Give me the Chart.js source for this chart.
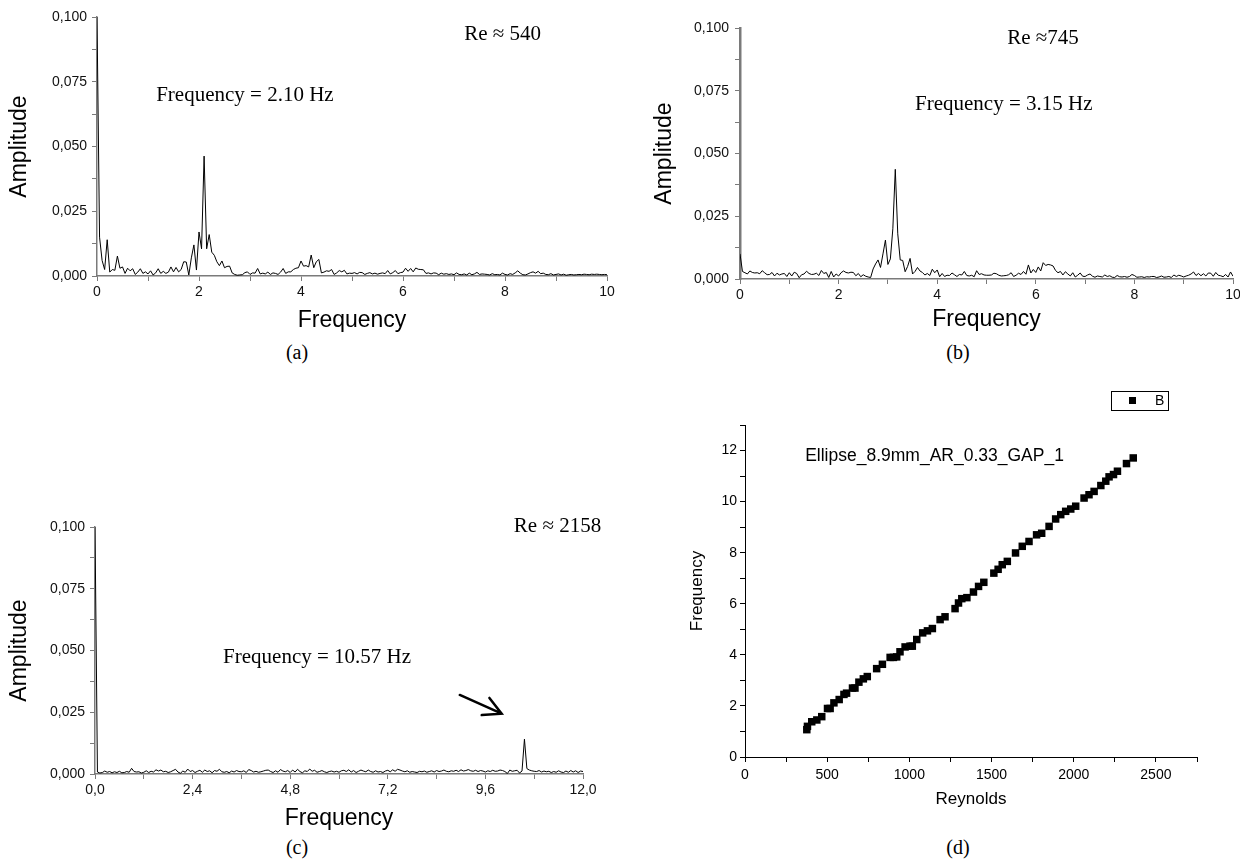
<!DOCTYPE html>
<html>
<head>
<meta charset="utf-8">
<script src="https://cdn.jsdelivr.net/npm/chart.js@4.4.0/dist/chart.umd.min.js"></script>
<style>
  html, body { margin: 0; padding: 0; background: #fff; width: 1240px; height: 866px; overflow: hidden; position: relative; }
  canvas { position: absolute; }
  .cap { position: absolute; font-family: 'Liberation Serif', serif; font-size: 20px; color: #000; transform: translateX(-50%); white-space: nowrap; }
</style>
</head>
<body>
<canvas id="chartA" width="630" height="334" style="left:0;top:0"></canvas>
<canvas id="chartB" width="610" height="333" style="left:640px;top:0"></canvas>
<canvas id="chartC" width="630" height="352" style="left:0;top:480px"></canvas>
<canvas id="chartD" width="600" height="430" style="left:640px;top:380px"></canvas>
<div class="cap" style="left:297px;top:341px">(a)</div>
<div class="cap" style="left:958px;top:341px">(b)</div>
<div class="cap" style="left:297px;top:836px">(c)</div>
<div class="cap" style="left:958px;top:836px">(d)</div>
<script>
// frequency bin width of each spectrum (Hz)
const binA = 0.05;
const binB = 0.05;
const binC = 0.06;

// (a) Re ~ 540, amplitude per bin, 0..10 Hz
const ampA = [
  0.100, 0.015, 0.006, 0.0025, 0.014, 0.0015, 0.0025, 0.0022, 0.0077, 0.003,
  0.0035, 0.001, 0.003, 0.002, 0.0028, 0.0006, 0.0015, 0.0028, 0.001, 0.0016,
  0.0008, 0.002, 0.0004, 0.0012, 0.0028, 0.001, 0.0018, 0.001, 0.0015, 0.0035,
  0.0016, 0.0033, 0.0016, 0.0025, 0.0055, 0.0054, 0.0004, 0.007, 0.012, 0.0023,
  0.017, 0.0105, 0.0463, 0.0105, 0.016, 0.0092, 0.008, 0.0055, 0.004, 0.0058,
  0.0032, 0.0037, 0.0038, 0.0012, 0.0006, 0.0003, 0.0004, 0.0005, 0.0013, 0.0016,
  0.0006, 0.0012, 0.0011, 0.0029, 0.0008, 0.0011, 0.0008, 0.0015, 0.0006, 0.0012,
  0.001, 0.0006, 0.0015, 0.0029, 0.001, 0.0016, 0.0016, 0.0025, 0.003, 0.0032,
  0.0058, 0.0038, 0.004, 0.0035, 0.0081, 0.0032, 0.0055, 0.0064, 0.0012, 0.0015,
  0.002, 0.0018, 0.0025, 0.0006, 0.0012, 0.0021, 0.0016, 0.0022, 0.0008, 0.0011,
  0.001, 0.0013, 0.0008, 0.0014, 0.0013, 0.0006, 0.001, 0.0013, 0.0008, 0.0011,
  0.0007, 0.001, 0.0012, 0.0009, 0.0021, 0.0008, 0.0013, 0.0021, 0.0009, 0.0013,
  0.0015, 0.003, 0.0018, 0.0029, 0.0016, 0.0031, 0.0026, 0.0025, 0.0024, 0.001,
  0.0012, 0.0008, 0.0012, 0.0011, 0.0005, 0.0011, 0.0007, 0.0009, 0.0006, 0.0008,
  0.0005, 0.0012, 0.0006, 0.0005, 0.0008, 0.0004, 0.0011, 0.0005, 0.0008, 0.0014,
  0.0006, 0.0008, 0.0007, 0.0006, 0.0004, 0.0009, 0.0005, 0.0006, 0.0004, 0.0011,
  0.0006, 0.0004, 0.0009, 0.0006, 0.0012, 0.002, 0.0011, 0.0005, 0.0004, 0.0008,
  0.0013, 0.0016, 0.0011, 0.0018, 0.0009, 0.0011, 0.0006, 0.0005, 0.0009, 0.0004,
  0.0006, 0.0008, 0.0004, 0.0007, 0.0003, 0.0005, 0.0006, 0.0004, 0.0005, 0.0006,
  0.0005, 0.0007, 0.0006, 0.0005, 0.0007, 0.0006, 0.0007, 0.0006, 0.0005, 0.0006,
  0.0005
];

// (b) Re ~ 745, 0..10 Hz
const ampB = [
  0.010, 0.003, 0.0025, 0.002, 0.0032, 0.0026, 0.0024, 0.0025, 0.0021, 0.0033,
  0.0025, 0.0017, 0.0018, 0.0026, 0.0012, 0.0023, 0.0016, 0.002, 0.0022, 0.001,
  0.0025, 0.0012, 0.0027, 0.0022, 0.0005, 0.0017, 0.002, 0.0031, 0.0022, 0.0018,
  0.0019, 0.0023, 0.0014, 0.0034, 0.0022, 0.0026, 0.0006, 0.003, 0.0008, 0.002,
  0.0012, 0.0025, 0.0032, 0.0026, 0.0024, 0.0027, 0.0026, 0.0013, 0.0022, 0.0009,
  0.0017, 0.0011, 0.0008, 0.0006, 0.004, 0.006, 0.0076, 0.0046, 0.010, 0.0155,
  0.0058, 0.008, 0.020, 0.0437, 0.018, 0.0076, 0.0074, 0.0029, 0.005, 0.0082,
  0.002, 0.003, 0.0046, 0.0032, 0.0026, 0.0016, 0.0022, 0.0014, 0.0039, 0.0025,
  0.0036, 0.0009, 0.0022, 0.001, 0.0015, 0.0014, 0.0024, 0.0017, 0.001, 0.0018,
  0.0016, 0.003, 0.0014, 0.0012, 0.0015, 0.0009, 0.0033, 0.0018, 0.0021, 0.0016,
  0.0015, 0.0015, 0.0016, 0.0023, 0.0021, 0.0015, 0.0012, 0.0013, 0.0014, 0.0017,
  0.0025, 0.001, 0.0015, 0.0023, 0.0018, 0.003, 0.0019, 0.0056, 0.0024, 0.0038,
  0.0026, 0.0048, 0.0032, 0.0065, 0.0054, 0.0058, 0.0056, 0.0052, 0.0034, 0.0025,
  0.003, 0.0016, 0.0029, 0.002, 0.0012, 0.0025, 0.0008, 0.0015, 0.0024, 0.0011,
  0.001, 0.0016, 0.002, 0.0011, 0.0007, 0.0012, 0.001, 0.0008, 0.0016, 0.001,
  0.0013, 0.0007, 0.0006, 0.0014, 0.0009, 0.0008, 0.001, 0.0007, 0.001, 0.0018,
  0.0014, 0.0007, 0.0008, 0.0009, 0.0006, 0.0009, 0.0008, 0.001, 0.001, 0.0006,
  0.0008, 0.0012, 0.0007, 0.0008, 0.001, 0.0006, 0.0016, 0.001, 0.0015, 0.0012,
  0.0008, 0.0012, 0.0015, 0.002, 0.0028, 0.0014, 0.0022, 0.0013, 0.0021, 0.0012,
  0.0024, 0.0023, 0.0011, 0.0026, 0.0015, 0.0013, 0.0009, 0.0018, 0.0008, 0.0028,
  0.0011
];

// (c) Re ~ 2158, 0..12 Hz
const ampC = [
  0.100, 0.0008, 0.0004, 0.0006, 0.0012, 0.0007, 0.001, 0.0005, 0.0009, 0.0006,
  0.0011, 0.0005, 0.0006, 0.001, 0.0007, 0.0023, 0.001, 0.0008, 0.0009, 0.0004,
  0.0007, 0.0013, 0.0006, 0.0011, 0.0008, 0.0017, 0.0012, 0.0016, 0.0009, 0.0011,
  0.0006, 0.0009, 0.0014, 0.0019, 0.0008, 0.0003, 0.0012, 0.0007, 0.002, 0.001,
  0.0014, 0.0006, 0.0011, 0.0015, 0.0007, 0.0016, 0.001, 0.0013, 0.0005, 0.0014,
  0.0011, 0.0019, 0.0009, 0.0007, 0.001, 0.0005, 0.0012, 0.0008, 0.0014, 0.001,
  0.0009, 0.0013, 0.0006, 0.0018, 0.0014, 0.0008, 0.0011, 0.0007, 0.0009, 0.0012,
  0.0015, 0.0016, 0.001, 0.0006, 0.0013, 0.0007, 0.0018, 0.0012, 0.0009, 0.0014,
  0.0006, 0.0016, 0.0008, 0.0019, 0.001, 0.0005, 0.0013, 0.001, 0.002, 0.0011,
  0.0015, 0.0007, 0.001, 0.0014, 0.0009, 0.0006, 0.001, 0.0012, 0.0008, 0.0011,
  0.0007, 0.0013, 0.0015, 0.001, 0.0017, 0.0008, 0.0014, 0.0006, 0.0011, 0.0016,
  0.0012, 0.0009, 0.0016, 0.001, 0.0007, 0.0013, 0.0008, 0.001, 0.0006, 0.0012,
  0.0015, 0.0009, 0.0017, 0.0011, 0.0019, 0.0016, 0.0012, 0.0009, 0.0013, 0.0007,
  0.001, 0.0008, 0.0006, 0.0011, 0.0009, 0.0012, 0.0007, 0.001, 0.0013, 0.0008,
  0.0014, 0.001, 0.0012, 0.0016, 0.0011, 0.0009, 0.0013, 0.0011, 0.0015, 0.001,
  0.0017, 0.0012, 0.0014, 0.0018, 0.0013, 0.0011, 0.0015, 0.001, 0.0014, 0.0012,
  0.0008, 0.0013, 0.001, 0.0015, 0.0011, 0.0012, 0.0016, 0.0014, 0.001, 0.0002,
  0.0016, 0.0011, 0.0013, 0.0015, 0.0004, 0.0012, 0.0141, 0.0022, 0.0016, 0.0013,
  0.0011, 0.001, 0.0014, 0.0008, 0.0012, 0.0009, 0.0011, 0.0006, 0.001, 0.0007,
  0.0013, 0.0008, 0.0006, 0.0012, 0.0007, 0.0014, 0.0008, 0.0013, 0.0006, 0.0012,
  0.001
];

// (d) shedding frequency vs Reynolds number
const reynoldsD = [
  376, 380, 406, 437, 467, 502, 518, 541, 573, 602, 618, 654, 669, 693, 720,
  744, 801, 836, 883, 903, 923, 943, 974, 1004, 1018, 1045, 1081, 1110, 1140, 1187,
  1217, 1278, 1299, 1319, 1350, 1390, 1421, 1453, 1514, 1540, 1565, 1596, 1646, 1687, 1728,
  1774, 1805, 1850, 1890, 1921, 1951, 1982, 2012, 2063, 2093, 2124, 2165, 2195, 2215, 2242,
  2266, 2321, 2362
];
const freqD = [
  1.07, 1.2, 1.38, 1.45, 1.58, 1.9, 1.9, 2.12, 2.25, 2.45, 2.5, 2.7, 2.7, 2.93, 3.06,
  3.15, 3.46, 3.63, 3.9, 3.9, 3.92, 4.12, 4.31, 4.34, 4.34, 4.6, 4.86, 4.94, 5.03, 5.38,
  5.49, 5.81, 6.03, 6.2, 6.24, 6.46, 6.68, 6.84, 7.2, 7.35, 7.53, 7.66, 7.99, 8.25, 8.44,
  8.7, 8.76, 9.03, 9.32, 9.49, 9.62, 9.71, 9.82, 10.14, 10.27, 10.4, 10.63, 10.8, 10.97, 11.06,
  11.19, 11.49, 11.71
];

Chart.defaults.font.family = "'Liberation Sans', Arial, sans-serif";
Chart.defaults.color = '#000';

const axisGrey = '#7a7a7a';
const serif21 = "21px 'Liberation Serif', serif";

// text notes (and an optional arrow) placed in data coordinates
function notesPlugin(notes, arrow) {
  return {
    id: 'notes',
    afterDraw(chart) {
      const { ctx, scales: { x, y } } = chart;
      ctx.save();
      ctx.fillStyle = '#000';
      ctx.textBaseline = 'alphabetic';
      ctx.textAlign = 'left';
      notes.forEach(n => {
        ctx.font = n.font;
        ctx.fillText(n.text, x.getPixelForValue(n.x), y.getPixelForValue(n.y));
      });
      if (arrow) {
        const x0 = x.getPixelForValue(arrow.from[0]), y0 = y.getPixelForValue(arrow.from[1]);
        const x1 = x.getPixelForValue(arrow.to[0]), y1 = y.getPixelForValue(arrow.to[1]);
        const ang = Math.atan2(y1 - y0, x1 - x0);
        const head = 20, spread = 0.49;
        ctx.strokeStyle = '#000';
        ctx.lineWidth = 2.5;
        ctx.lineCap = 'round';
        ctx.beginPath();
        ctx.moveTo(x0, y0);
        ctx.lineTo(x1, y1);
        ctx.moveTo(x1 - head * Math.cos(ang - spread), y1 - head * Math.sin(ang - spread));
        ctx.lineTo(x1, y1);
        ctx.lineTo(x1 - head * Math.cos(ang + spread), y1 - head * Math.sin(ang + spread));
        ctx.stroke();
      }
      ctx.restore();
    }
  };
}

function ampLabel(v) {
  const k = Math.round(v / 0.0125);
  return k % 2 === 0 ? (k * 0.0125).toFixed(3).replace('.', ',') : '';
}

function spectrumChart(id, amps, bin, o) {
  return new Chart(document.getElementById(id), {
    type: 'line',
    data: {
      datasets: [{
        data: amps.map((a, i) => ({ x: i * bin, y: a })),
        borderColor: '#000',
        borderWidth: 1,
        pointRadius: 0,
        tension: 0,
        fill: false
      }]
    },
    options: {
      animation: false,
      responsive: false,
      events: [],
      layout: { padding: { left: 0, top: o.top, right: o.right, bottom: 0 } },
      plugins: { legend: { display: false }, tooltip: { enabled: false } },
      scales: {
        x: {
          type: 'linear', min: 0, max: o.xMax,
          afterFit: s => { s.height = o.xH; },
          ticks: { stepSize: o.xStep, autoSkip: false, maxRotation: 0, padding: 3, font: { size: 14 }, color: '#111', callback: o.xLabel },
          grid: { drawOnChartArea: false, drawTicks: true, tickLength: 5, color: axisGrey },
          border: { color: axisGrey, width: 1.5 },
          title: { display: true, text: 'Frequency', font: { size: 23 }, color: '#000', padding: { top: 0, bottom: 0 } }
        },
        y: {
          type: 'linear', min: 0, max: 0.1,
          afterFit: s => { s.width = o.yW; },
          ticks: { stepSize: 0.0125, autoSkip: false, padding: o.yPad, font: { size: 14 }, color: '#111', callback: ampLabel },
          grid: { drawOnChartArea: false, drawTicks: true, tickLength: 5, color: axisGrey },
          border: { color: axisGrey, width: o.yBorder },
          title: { display: true, text: 'Amplitude', font: { size: 23 }, color: '#000', padding: { top: o.titlePad, bottom: 0 } }
        }
      }
    },
    plugins: [notesPlugin(o.notes, o.arrow)]
  });
}

spectrumChart('chartA', ampA, binA, {
  top: 17, right: 23, yW: 97, xH: 58, xMax: 10, xStep: 1, yPad: 5, yBorder: 1.5, titlePad: 6,
  xLabel: v => (Math.round(v) % 2 === 0 ? String(Math.round(v)) : ''),
  notes: [
    { text: 'Re \u2248 540', x: 7.2, y: 0.0911, font: serif21 },
    { text: 'Frequency = 2.10 Hz', x: 1.16, y: 0.0676, font: serif21 }
  ]
});

spectrumChart('chartB', ampB, binB, {
  top: 28, right: 17, yW: 100, xH: 54, xMax: 10, xStep: 1, yPad: 6, yBorder: 2.5, titlePad: 11,
  xLabel: v => (Math.round(v) % 2 === 0 ? String(Math.round(v)) : ''),
  notes: [
    { text: 'Re \u2248745', x: 5.42, y: 0.0936, font: serif21 },
    { text: 'Frequency = 3.15 Hz', x: 3.55, y: 0.0673, font: serif21 }
  ]
});

spectrumChart('chartC', ampC, binC, {
  top: 47, right: 47, yW: 95, xH: 58, xMax: 12, xStep: 1.2, yPad: 5, yBorder: 1.5, titlePad: 6,
  xLabel: v => {
    const k = Math.round(v / 1.2);
    return k % 2 === 0 ? (k * 1.2).toFixed(1).replace('.', ',') : '';
  },
  notes: [
    { text: 'Re \u2248 2158', x: 10.3, y: 0.0979, font: serif21 },
    { text: 'Frequency = 10.57 Hz', x: 3.15, y: 0.045, font: serif21 }
  ],
  arrow: { from: [8.97, 0.032], to: [10.0, 0.0244] }
});

// legend box for (d), drawn with a frame like the original
const legendBox = {
  id: 'legendBox',
  afterDraw(chart) {
    const { ctx, chartArea } = chart;
    const ds = chart.data.datasets[0];
    const left = chartArea.right - 86, top = chartArea.top - 34;
    ctx.save();
    ctx.strokeStyle = '#000';
    ctx.lineWidth = 1;
    ctx.strokeRect(left + 0.5, top + 0.5, 57, 19);
    ctx.fillStyle = '#000';
    ctx.fillRect(left + 18, top + 6, 7, 7);
    ctx.font = "14px 'Liberation Sans', Arial, sans-serif";
    ctx.textBaseline = 'middle';
    ctx.fillText(ds.label, left + 44, top + 10.5);
    ctx.restore();
  }
};

new Chart(document.getElementById('chartD'), {
  type: 'scatter',
  data: {
    datasets: [{
      label: 'B',
      data: reynoldsD.map((r, i) => ({ x: r, y: freqD[i] })),
      pointStyle: 'rect',
      pointRadius: 5.3,
      backgroundColor: '#000',
      borderColor: '#000',
      borderWidth: 0
    }]
  },
  options: {
    animation: false,
    responsive: false,
    events: [],
    layout: { padding: { left: 45, top: 45, right: 43, bottom: 0 } },
    plugins: { legend: { display: false }, tooltip: { enabled: false } },
    scales: {
      x: {
        type: 'linear', min: 0, max: 2750,
        afterFit: s => { s.height = 53; },
        ticks: { stepSize: 250, autoSkip: false, maxRotation: 0, padding: 5, font: { size: 14 }, color: '#000',
          callback: v => (v % 500 === 0 ? String(v) : '') },
        grid: { drawOnChartArea: false, drawTicks: true, tickLength: 5, color: '#000' },
        border: { color: '#000', width: 1 },
        title: { display: true, text: 'Reynolds', font: { size: 17 }, color: '#000', padding: { top: 0, bottom: 0 } }
      },
      y: {
        type: 'linear', min: 0, max: 13,
        afterFit: s => { s.width = 60; },
        ticks: { stepSize: 1, autoSkip: false, padding: 3, font: { size: 14 }, color: '#000',
          callback: v => (v % 2 === 0 ? String(v) : '') },
        grid: { drawOnChartArea: false, drawTicks: true, tickLength: 5, color: '#000' },
        border: { color: '#000', width: 1 },
        title: { display: true, text: 'Frequency', font: { size: 17 }, color: '#000', padding: { top: 2, bottom: 0 } }
      }
    }
  },
  plugins: [
    notesPlugin([{ text: 'Ellipse_8.9mm_AR_0.33_GAP_1', x: 366, y: 11.6, font: "17.5px 'Liberation Sans', Arial, sans-serif" }]),
    legendBox
  ]
});
</script>
</body>
</html>
